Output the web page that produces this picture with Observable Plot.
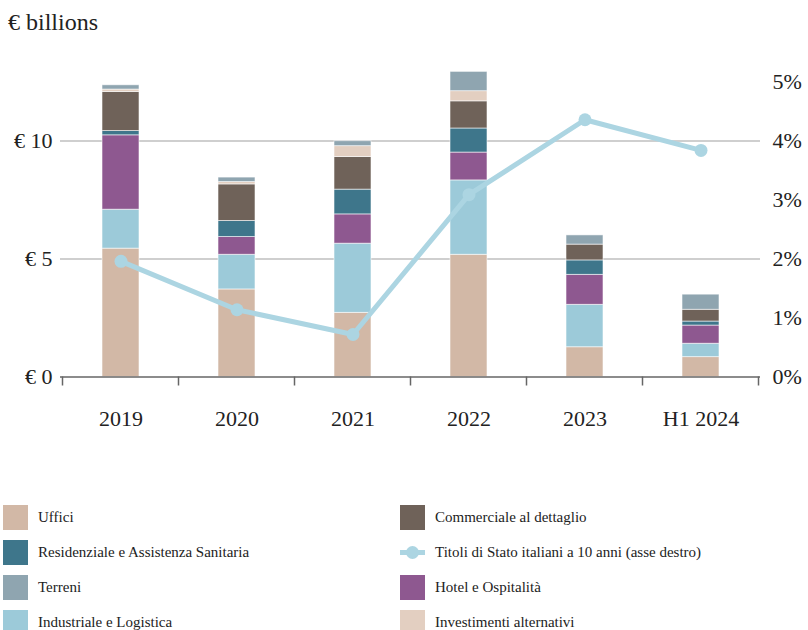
<!DOCTYPE html>
<html>
<head>
<meta charset="utf-8">
<script src="https://cdn.jsdelivr.net/npm/d3@7"></script>
<script src="https://cdn.jsdelivr.net/npm/@observablehq/plot@0.6"></script>
<style>
  body { margin: 0; background: #fff; font-family: "Liberation Serif", "DejaVu Serif", "Noto Serif", Times, serif; color: #222; }
  #wrap { position: relative; width: 808px; height: 630px; overflow: hidden; }
  #title { position: absolute; left: 8px; top: 8px; font-size: 24px; line-height: 28px; }
  #chart { position: absolute; left: 0; top: 40px; }
  #legend { position: absolute; left: 3px; top: 505px; display: grid; grid-template-columns: 397px 400px; row-gap: 10px; }
  .item { display: flex; align-items: center; height: 25px; font-size: 15px; }
  .sw { width: 25px; height: 25px; margin-right: 10px; flex: none; }
  .ln { width: 25px; height: 25px; margin-right: 10px; flex: none; }
</style>
</head>
<body>
<div id="wrap">
  <div id="title">€ billions</div>
  <div id="chart"></div>
  <div id="legend"></div>
</div>
<script>
// ---- data ----
const years = ["2019", "2020", "2021", "2022", "2023", "H1 2024"];
const uffici       = [5.44, 3.71, 2.72, 5.18, 1.26, 0.84];
const industriale  = [1.65, 1.47, 2.93, 3.15, 1.80, 0.57];
const hotel        = [3.15, 0.75, 1.24, 1.18, 1.27, 0.77];
const residenziale = [0.18, 0.68, 1.05, 1.02, 0.61, 0.17];
const commerciale  = [1.66, 1.55, 1.38, 1.15, 0.67, 0.50];
const alternativi  = [0.10, 0.10, 0.46, 0.43, 0.00, 0.00];
const terreni      = [0.18, 0.19, 0.21, 0.82, 0.39, 0.64];
const btp10        = [1.96, 1.14, 0.72, 3.09, 4.36, 3.84]; // % (right axis)

const categories = [
  "Uffici",
  "Industriale e Logistica",
  "Hotel e Ospitalità",
  "Residenziale e Assistenza Sanitaria",
  "Commerciale al dettaglio",
  "Investimenti alternativi",
  "Terreni"
];
const colors = ["#d2b8a6", "#9ccad9", "#8e5890", "#3e768b", "#6f6259", "#e3cfc1", "#8fa5b0"];
const lineName = "Titoli di Stato italiani a 10 anni (asse destro)";
const lineColor = "#acd5e2";

const leftTicks = [0, 5, 10];
const leftLabels = ["€ 0", "€ 5", "€ 10"];
const rightTicks = [0, 1, 2, 3, 4, 5];
const rightLabels = ["0%", "1%", "2%", "3%", "4%", "5%"];
const ratio = 2.5; // € bn per 1% on the right axis

const legendOrder = [
  "Uffici", "Commerciale al dettaglio",
  "Residenziale e Assistenza Sanitaria", lineName,
  "Terreni", "Hotel e Ospitalità",
  "Industriale e Logistica", "Investimenti alternativi"
];

// ---- build tables ----
const seriesValues = [uffici, industriale, hotel, residenziale, commerciale, alternativi, terreni];
const bars = [];
categories.forEach((c, ci) => {
  years.forEach((y, yi) => bars.push({year: y, cat: c, value: seriesValues[ci][yi]}));
});
const linePts = years.map((y, i) => ({year: y, v: btp10[i] * ratio}));

const font = '"Liberation Serif", "DejaVu Serif", "Noto Serif", Times, serif';

// boundary ticks under the x axis
function boundaryTicks(index, scales, values, dimensions) {
  const x = scales.x, y = scales.y;
  const bw = x.bandwidth ? x.bandwidth() : 0;
  const step = x(years[1]) - x(years[0]);
  const y0 = y(0);
  const g = d3.create("svg:g").attr("stroke", "#666").attr("stroke-width", 1.5);
  const xs = years.map(d => x(d) + bw / 2 - step / 2);
  xs.push(x(years[years.length - 1]) + bw / 2 + step / 2);
  xs.forEach(px => g.append("line").attr("x1", px).attr("x2", px).attr("y1", y0).attr("y2", y0 + 9));
  return g.node();
}

const plot = Plot.plot({
  width: 808,
  height: 440,
  marginLeft: 60,
  marginRight: 48,
  marginTop: 41.5,
  marginBottom: 103.5,
  style: {fontFamily: font, fontSize: "22px", color: "#222", background: "white", overflow: "visible"},
  x: {domain: years, paddingInner: 0.683, paddingOuter: 0.3415, label: null},
  y: {domain: [0, 12.5], label: null},
  color: {domain: categories, range: colors},
  marks: [
    Plot.ruleY([5, 10], {stroke: "#cfcfcf", strokeWidth: 2}),
    Plot.barY(bars, {x: "year", y: "value", fill: "cat", order: categories, stroke: "white", strokeWidth: 0.8, strokeOpacity: 0.7}),
    Plot.ruleY([0], {stroke: "#666", strokeWidth: 1.5}),
    boundaryTicks,
    Plot.line(linePts, {x: "year", y: "v", stroke: lineColor, strokeWidth: 5}),
    Plot.dot(linePts, {x: "year", y: "v", fill: lineColor, r: 6.5}),
    Plot.axisX({tickSize: 0, tickPadding: 33, fontSize: 22}),
    Plot.axisY({anchor: "left", ticks: leftTicks, tickSize: 0, tickPadding: 8,
      tickFormat: d => leftLabels[leftTicks.indexOf(d)]}),
    Plot.axisY({anchor: "right", ticks: rightTicks.map(t => t * ratio), tickSize: 0, tickPadding: 12,
      tickFormat: d => rightLabels[rightTicks.indexOf(Math.round(d / ratio))]})
  ]
});
document.getElementById("chart").appendChild(plot);

// ---- legend ----
const legend = document.getElementById("legend");
legendOrder.forEach(name => {
  const item = document.createElement("div");
  item.className = "item";
  if (name === lineName) {
    const s = document.createElementNS("http://www.w3.org/2000/svg", "svg");
    s.setAttribute("class", "ln");
    s.setAttribute("width", 25); s.setAttribute("height", 25);
    s.innerHTML = `<line x1="0" x2="25" y1="12.5" y2="12.5" stroke="${lineColor}" stroke-width="5"/><circle cx="12.5" cy="12.5" r="6.5" fill="${lineColor}"/>`;
    item.appendChild(s);
  } else {
    const sw = document.createElement("div");
    sw.className = "sw";
    sw.style.background = colors[categories.indexOf(name)];
    item.appendChild(sw);
  }
  const t = document.createElement("span");
  t.textContent = name;
  item.appendChild(t);
  legend.appendChild(item);
});
</script>
</body>
</html>
